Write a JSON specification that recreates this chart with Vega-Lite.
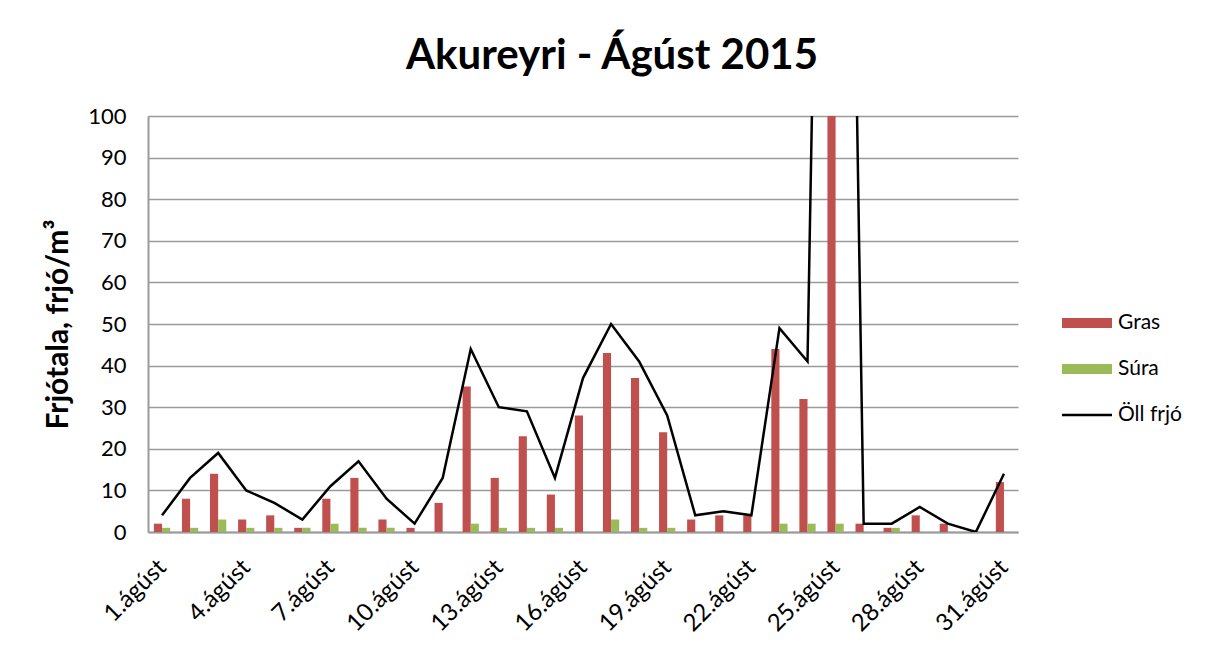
{
  "$schema": "https://vega.github.io/schema/vega-lite/v6.json",
  "width": 870,
  "height": 416,
  "autosize": {"type": "none"},
  "padding": {"left": 148, "top": 116, "right": 194, "bottom": 114},
  "background": "white",
  "title": {"text": "Akureyri - Ágúst 2015", "font": "Lato", "fontSize": 42, "fontWeight": "bold", "color": "#000000", "anchor": "middle", "dx": 29, "offset": 27},
  "data": {"values": [
    {"d": 1, "dagur": "1.ágúst", "Gras": 2, "Súra": 1, "Öll": 4},
    {"d": 2, "dagur": "2.ágúst", "Gras": 8, "Súra": 1, "Öll": 13},
    {"d": 3, "dagur": "3.ágúst", "Gras": 14, "Súra": 3, "Öll": 19},
    {"d": 4, "dagur": "4.ágúst", "Gras": 3, "Súra": 1, "Öll": 10},
    {"d": 5, "dagur": "5.ágúst", "Gras": 4, "Súra": 1, "Öll": 7},
    {"d": 6, "dagur": "6.ágúst", "Gras": 1, "Súra": 1, "Öll": 3},
    {"d": 7, "dagur": "7.ágúst", "Gras": 8, "Súra": 2, "Öll": 11},
    {"d": 8, "dagur": "8.ágúst", "Gras": 13, "Súra": 1, "Öll": 17},
    {"d": 9, "dagur": "9.ágúst", "Gras": 3, "Súra": 1, "Öll": 8},
    {"d": 10, "dagur": "10.ágúst", "Gras": 1, "Súra": 0, "Öll": 2},
    {"d": 11, "dagur": "11.ágúst", "Gras": 7, "Súra": 0, "Öll": 13},
    {"d": 12, "dagur": "12.ágúst", "Gras": 35, "Súra": 2, "Öll": 44},
    {"d": 13, "dagur": "13.ágúst", "Gras": 13, "Súra": 1, "Öll": 30},
    {"d": 14, "dagur": "14.ágúst", "Gras": 23, "Súra": 1, "Öll": 29},
    {"d": 15, "dagur": "15.ágúst", "Gras": 9, "Súra": 1, "Öll": 13},
    {"d": 16, "dagur": "16.ágúst", "Gras": 28, "Súra": 0, "Öll": 37},
    {"d": 17, "dagur": "17.ágúst", "Gras": 43, "Súra": 3, "Öll": 50},
    {"d": 18, "dagur": "18.ágúst", "Gras": 37, "Súra": 1, "Öll": 41},
    {"d": 19, "dagur": "19.ágúst", "Gras": 24, "Súra": 1, "Öll": 28},
    {"d": 20, "dagur": "20.ágúst", "Gras": 3, "Súra": 0, "Öll": 4},
    {"d": 21, "dagur": "21.ágúst", "Gras": 4, "Súra": 0, "Öll": 5},
    {"d": 22, "dagur": "22.ágúst", "Gras": 4, "Súra": 0, "Öll": 4},
    {"d": 23, "dagur": "23.ágúst", "Gras": 44, "Súra": 2, "Öll": 49},
    {"d": 24, "dagur": "24.ágúst", "Gras": 32, "Súra": 2, "Öll": 41},
    {"d": 25, "dagur": "25.ágúst", "Gras": 400, "Súra": 2, "Öll": 420},
    {"d": 26, "dagur": "26.ágúst", "Gras": 2, "Súra": 0, "Öll": 2},
    {"d": 27, "dagur": "27.ágúst", "Gras": 1, "Súra": 1, "Öll": 2},
    {"d": 28, "dagur": "28.ágúst", "Gras": 4, "Súra": 0, "Öll": 6},
    {"d": 29, "dagur": "29.ágúst", "Gras": 2, "Súra": 0, "Öll": 2},
    {"d": 30, "dagur": "30.ágúst", "Gras": 0, "Súra": 0, "Öll": 0},
    {"d": 31, "dagur": "31.ágúst", "Gras": 12, "Súra": 0, "Öll": 14}
  ]},
  "encoding": {
    "x": {
      "field": "dagur", "type": "ordinal", "sort": null,
      "scale": {"paddingInner": 0.42, "paddingOuter": 0.21},
      "axis": {
        "title": null,
        "values": ["1.ágúst","4.ágúst","7.ágúst","10.ágúst","13.ágúst","16.ágúst","19.ágúst","22.ágúst","25.ágúst","28.ágúst","31.ágúst"],
        "labelAngle": -45, "labelFont": "Lato", "labelFontSize": 24, "labelColor": "#000000",
        "labelPadding": 23, "labelOffset": -8, "ticks": false, "domainColor": "#9a9a9a", "domainWidth": 2, "grid": false
      }
    }
  },
  "layer": [
    {
      "transform": [{"fold": ["Gras", "Súra"], "as": ["key", "val"]}],
      "mark": {"type": "bar", "clip": true},
      "encoding": {
        "xOffset": {"field": "key", "type": "nominal", "scale": {"domain": ["Gras", "Súra"], "paddingInner": 0, "paddingOuter": 0}},
        "y": {
          "field": "val", "type": "quantitative",
          "scale": {"domain": [0, 100], "nice": false},
          "axis": {
            "title": "Frjótala, frjó/m³", "titleFont": "Lato", "titleFontSize": 30, "titleFontWeight": "bold", "titleColor": "#000000", "titlePadding": 14,
            "values": [0,10,20,30,40,50,60,70,80,90,100],
            "labelFont": "Lato", "labelFontSize": 22, "labelColor": "#000000", "labelPadding": 22,
            "ticks": false, "domainColor": "#9a9a9a", "domainWidth": 2,
            "grid": true, "gridColor": "#9a9a9a", "gridWidth": 1.5
          }
        },
        "color": {
          "field": "key", "type": "nominal",
          "scale": {"domain": ["Gras", "Súra", "Öll frjó"], "range": ["#C0504D", "#9BBB59", "#000000"]},
          "legend": {
            "title": null, "orient": "none", "legendX": 914, "legendY": 182,
            "symbolType": "M-1,-0.2H1V0.2H-1Z", "symbolSize": 2500, "symbolStrokeWidth": 0,
            "labelFont": "Lato", "labelFontSize": 21, "labelColor": "#000000", "labelOffset": 6,
            "rowPadding": 11,
            "encode": {"symbols": {"update": {"shape": {"signal": "datum.value === 'Öll frjó' ? 'M-1,-0.05H1V0.05H-1Z' : 'M-1,-0.2H1V0.2H-1Z'"}}}}
          }
        }
      }
    },
    {
      "mark": {"type": "line", "clip": true, "strokeWidth": 2.5, "strokeJoin": "miter"},
      "encoding": {
        "y": {"field": "Öll", "type": "quantitative"},
        "color": {"datum": "Öll frjó"}
      }
    }
  ],
  "config": {"view": {"stroke": null}}
}
